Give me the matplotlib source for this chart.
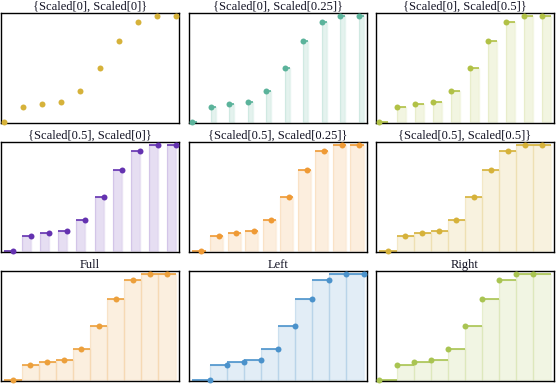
import matplotlib.pyplot as plt
import numpy as np

# values (cumulative-looking sequence)
xs = np.arange(1, 11)
ys = [0.0, 0.14, 0.168, 0.189, 0.292, 0.51, 0.762, 0.942, 1.0, 1.0]

titles = ["{Scaled[0], Scaled[0]}", "{Scaled[0], Scaled[0.25]}", "{Scaled[0], Scaled[0.5]}",
          "{Scaled[0.5], Scaled[0]}", "{Scaled[0.5], Scaled[0.25]}", "{Scaled[0.5], Scaled[0.5]}",
          "Full", "Left", "Right"]
lefts = [0, 0, 0, 0.5, 0.5, 0.5, 0.5, 1, 0]
rights = [0, 0.25, 0.5, 0, 0.25, 0.5, 0.5, 0, 1]
colors = ['#d6b23a', '#5bb39b', '#b1c146', '#6432b0', '#ef9a35', '#d6b23a',
          '#eca03c', '#4b92cb', '#a9c452']

# panel boxes in pixels (left, right), (top, bottom)
cols = [(1, 179), (189, 367), (376, 554)]
rows = [(13, 123), (142, 252), (271, 381)]
W, H = 556, 384

plt.rcParams['font.family'] = ['Liberation Serif', 'DejaVu Serif']
fig = plt.figure(figsize=(W / 100, H / 100), dpi=100)

for i in range(9):
    r, c = divmod(i, 3)
    x0, x1 = cols[c]
    t0, t1 = rows[r]
    ax = fig.add_axes([x0 / W, 1 - t1 / H, (x1 - x0) / W, (t1 - t0) / H])
    l, rt, col = lefts[i], rights[i], colors[i]
    if l + rt > 0:
        ax.bar(xs - l, ys, width=l + rt, align='edge', color=col, alpha=0.16,
               edgecolor='none', zorder=1)
        ax.bar(xs - l, ys, width=l + rt, align='edge', color='none',
               edgecolor=col, linewidth=1.0, alpha=0.14, zorder=1)
        ax.hlines(ys, xs - l, xs + rt, color=col, lw=1.4, alpha=0.85, zorder=2)
    ax.plot(xs, ys, 'o', ms=4.3, color=col, mec='none', zorder=3, clip_on=False)
    lo, hi = xs.min() - l, xs.max() + rt
    pad = 0.02 * (hi - lo)
    ax.set_xlim(lo - pad, hi + pad)
    ax.set_ylim(-0.012, 1.028)
    ax.set_xticks([])
    ax.set_yticks([])
    for s in ax.spines.values():
        s.set_linewidth(1.0)
        s.set_color('black')
    ax.set_title(titles[i], fontsize=9, pad=2, color='#111122')

fig.savefig('out.png', dpi=100)
